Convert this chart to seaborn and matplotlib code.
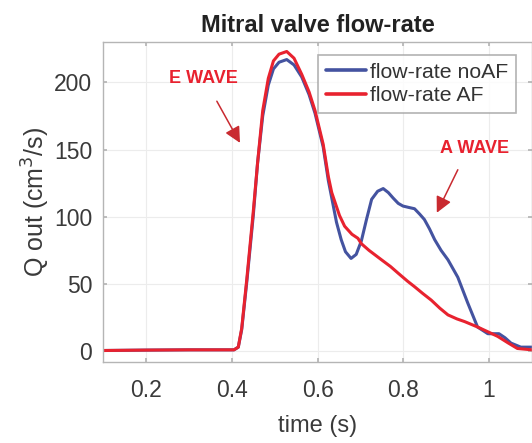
import numpy as np
import pandas as pd
import matplotlib
matplotlib.use("Agg")
import matplotlib.pyplot as plt
import seaborn as sns

# ---- data ----
time_noaf = [0.10, 0.20, 0.30, 0.405, 0.415, 0.423, 0.435, 0.45, 0.46, 0.472, 0.485,
             0.497, 0.51, 0.528, 0.545, 0.563, 0.58, 0.594, 0.613, 0.625, 0.633, 0.644,
             0.655, 0.665, 0.678, 0.69, 0.702, 0.714, 0.726, 0.74, 0.753, 0.765, 0.776,
             0.788, 0.799, 0.812, 0.826, 0.838, 0.849, 0.861, 0.873, 0.888, 0.904,
             0.927, 0.95, 0.973, 0.997, 1.01, 1.023, 1.037, 1.051, 1.074, 1.10]
flow_noaf = [0.5, 0.8, 1.0, 1.0, 3, 16, 52, 101, 140, 175, 198,
             210, 215, 217, 213, 204, 191, 177, 152, 127, 114, 96,
             83, 74, 69, 72, 82, 98, 113, 119, 121, 118, 114,
             110, 108, 107, 106, 102, 98, 91, 83, 75, 68,
             55, 36, 18, 13, 13, 13, 10, 6, 3, 3]

time_af = [0.10, 0.20, 0.30, 0.405, 0.415, 0.423, 0.435, 0.45, 0.46, 0.472, 0.485,
           0.497, 0.51, 0.528, 0.545, 0.563, 0.58, 0.594, 0.613, 0.625, 0.633, 0.651,
           0.663, 0.68, 0.694, 0.702, 0.72, 0.749, 0.77, 0.788, 0.81, 0.826, 0.845,
           0.865, 0.885, 0.904, 0.925, 0.943, 0.973, 1.0, 1.02, 1.045, 1.066, 1.10]
flow_af = [0.5, 0.8, 1.0, 1.0, 3, 17, 54, 104, 140, 179, 203,
           216, 221, 223, 218, 206, 193, 179, 154, 130, 118, 101,
           93, 87, 84, 80, 75, 68, 63, 58, 52, 48, 43,
           38, 32, 27, 24, 22, 18, 14, 11, 6, 2, 1]

series_names = ["flow-rate noAF", "flow-rate AF"]
x_ticks = [0.2, 0.4, 0.6, 0.8, 1.0]
x_ticklabels = ["0.2", "0.4", "0.6", "0.8", "1"]
y_ticks = [0, 50, 100, 150, 200]

df = pd.concat([
    pd.DataFrame({"time": time_noaf, "flow": flow_noaf, "series": series_names[0]}),
    pd.DataFrame({"time": time_af, "flow": flow_af, "series": series_names[1]}),
], ignore_index=True)

sns.set_theme(style="whitegrid")
plt.rcParams["font.family"] = ["Liberation Sans", "DejaVu Sans"]

fig = plt.figure(figsize=(5.32, 4.43), dpi=100)
ax = fig.add_axes([0.194, 0.183, 0.806, 0.722])

palette = {series_names[0]: "#4453a0", series_names[1]: "#e8222f"}
sns.lineplot(data=df, x="time", y="flow", hue="series", palette=palette,
             linewidth=2.2, ax=ax, sort=False, estimator=None)
for ln in ax.get_lines():
    ln.set_solid_joinstyle("round")
    ln.set_solid_capstyle("round")

ax.set_xlim(0.1, 1.1)
ax.set_ylim(-8, 230)
ax.set_xticks(x_ticks)
ax.set_xticklabels(x_ticklabels)
ax.set_yticks(y_ticks)

ax.grid(True, color="#ececec", linewidth=0.8)
for side, sp in ax.spines.items():
    sp.set_color("#b5b5b5")
    sp.set_linewidth(1.0)
ax.tick_params(axis="both", direction="in", length=3, color="#b5b5b5",
               labelsize=16.5, labelcolor="#3a3a3a",
               top=True, right=True, bottom=True, left=True)
ax.tick_params(axis="x", pad=12)
ax.tick_params(axis="y", pad=8)

ax.set_xlabel("time (s)", fontsize=17, color="#3a3a3a", labelpad=10)
ax.set_ylabel("Q out (cm$^3$/s)", fontsize=18, color="#3a3a3a", labelpad=1)
ax.set_title("Mitral valve flow-rate", fontsize=17, fontweight="bold",
             color="#222222", pad=7)

leg = ax.legend(loc="upper right", bbox_to_anchor=(0.963, 0.959), fontsize=15.3,
                frameon=True, fancybox=False, edgecolor="#a0a0a0",
                handlelength=1.9, handletextpad=0.2, borderpad=0.35,
                labelspacing=0.22, borderaxespad=0.0)
leg.get_frame().set_linewidth(1.2)
for t in leg.get_texts():
    t.set_color("#333333")
for h in leg.get_lines():
    h.set_linewidth(2.6)

arrow_kw = dict(arrowstyle="-|>,head_length=0.8,head_width=0.4",
                color="#c92a30", lw=1.1, mutation_scale=12,
                shrinkA=0, shrinkB=0)
ax.text(0.333, 203, "E WAVE", color="#e8222f", fontsize=13,
        fontweight="bold", ha="center", va="center")
ax.annotate("", xy=(0.419, 155), xytext=(0.365, 186), arrowprops=arrow_kw)
ax.text(0.965, 151, "A WAVE", color="#e8222f", fontsize=13,
        fontweight="bold", ha="center", va="center")
ax.annotate("", xy=(0.878, 103), xytext=(0.927, 135), arrowprops=arrow_kw)

fig.savefig("out.png", dpi=100)
